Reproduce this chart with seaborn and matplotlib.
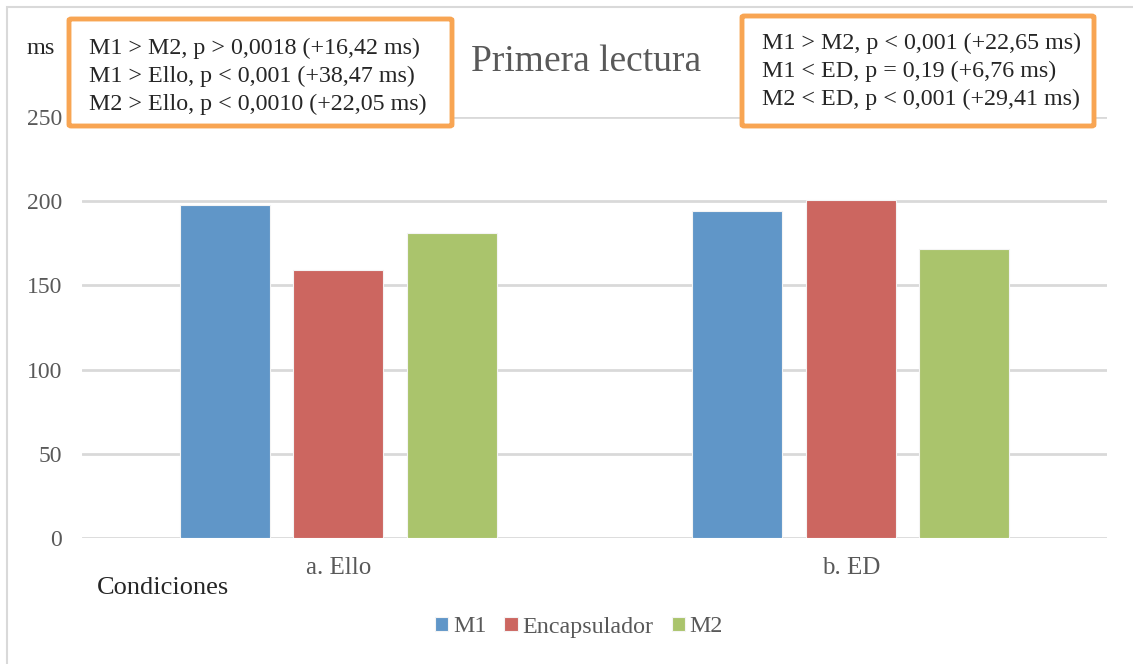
import matplotlib
matplotlib.use("Agg")
import matplotlib.pyplot as plt
from matplotlib.patches import Rectangle, FancyBboxPatch
import pandas as pd
import seaborn as sns

# ─── Data ─────────────────────────────────────────────────────────────────────
conditions = ["a. Ello", "b. ED"]
series     = ["M1", "Encapsulador", "M2"]
m1_vals    = [197.6, 194.1]
enc_vals   = [159.1, 200.9]
m2_vals    = [181.2, 171.5]
y_ticks    = [0, 50, 100, 150, 200, 250]

box_left  = ["M1 > M2, p > 0,0018 (+16,42 ms)",
             "M1 > Ello, p < 0,001 (+38,47 ms)",
             "M2 > Ello, p < 0,0010 (+22,05 ms)"]
box_right = ["M1 > M2, p < 0,001 (+22,65 ms)",
             "M1 < ED, p = 0,19 (+6,76 ms)",
             "M2 < ED, p < 0,001 (+29,41 ms)"]

colors = ["#6096C8", "#CC6660", "#AAC46C"]
GRAY   = "#595959"
ORANGE = "#F8A553"

rows = []
for s, vals in zip(series, [m1_vals, enc_vals, m2_vals]):
    for c, v in zip(conditions, vals):
        rows.append({"cond": c, "serie": s, "ms": v})
df = pd.DataFrame(rows)

# ─── Plot ─────────────────────────────────────────────────────────────────────
sns.set_style("white")
plt.rcParams["font.family"] = ["Liberation Serif", "DejaVu Serif"]

W, H = 1133, 664
fig = plt.figure(figsize=(W / 100, H / 100), dpi=100)
ax = fig.add_axes([82 / W, 1 - 538 / H, (1107 - 82) / W, (538 - 117) / H])

sns.barplot(data=df, x="cond", y="ms", hue="serie", order=conditions,
            hue_order=series, palette=colors, saturation=1, width=0.665, gap=0.21,
            edgecolor="#F4F4F4", linewidth=0.8, ax=ax, legend=True)

ax.set_ylim(0, 250)
ax.set_xlim(-0.5, 1.5)
ax.set_yticks(y_ticks)
ax.set_xlabel("")
ax.set_ylabel("")
ax.grid(axis="y", color="#D9D9D9", linewidth=2)
ax.set_axisbelow(True)
for sp in ax.spines.values():
    sp.set_visible(False)
ax.tick_params(axis="both", length=0, labelsize=17, labelcolor=GRAY)
ax.tick_params(axis="x", labelsize=18, pad=14)
ax.tick_params(axis="y", pad=14.5)

leg = ax.legend(loc="center", bbox_to_anchor=(579 / W, 1 - 627 / H),
                bbox_transform=fig.transFigure, ncol=3, frameon=False,
                fontsize=17.3, handlelength=0.55, handleheight=0.55,
                handletextpad=0.2, columnspacing=0.75)
for t in leg.get_texts():
    t.set_color(GRAY)

# texts
fig.text(27 / W, 1 - 49 / H, "ms", fontsize=17.5, va="center", ha="left")
fig.text(97 / W, 1 - 588 / H, "Condiciones", fontsize=19, va="center", ha="left")
fig.text(586 / W, 1 - 62 / H, "Primera lectura", fontsize=27, color=GRAY,
         va="center", ha="center")

# annotation boxes
for (x0, y0, x1, y1), lines, tx, ymid in [((69, 19, 452, 126), box_left, 89, 76),
                                          ((742, 16, 1094, 126), box_right, 762, 71.5)]:
    fig.patches.append(FancyBboxPatch((x0 / W, 1 - y1 / H), (x1 - x0) / W,
                                      (y1 - y0) / H, boxstyle="round,pad=0,rounding_size=0.002",
                                      transform=fig.transFigure, facecolor="white",
                                      edgecolor=ORANGE, linewidth=3.5, zorder=5))
    for i, line in enumerate(lines):
        fig.text(tx / W, 1 - (ymid + (i - 1) * 28) / H, line, fontsize=17.3,
                 va="center", ha="left", zorder=6)

# outer chart border
fig.patches.append(Rectangle((7 / W, -0.05), 1.1, 1.05 - 7 / H, transform=fig.transFigure,
                             facecolor="none", edgecolor="#D9D9D9", linewidth=1.5))

fig.savefig("out.png", dpi=100)
